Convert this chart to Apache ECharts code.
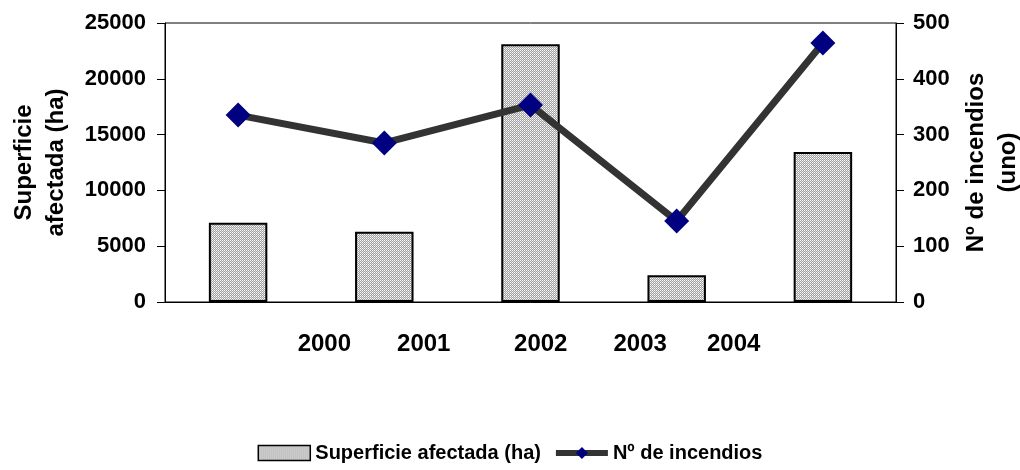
<!DOCTYPE html>
<html>
<head>
<meta charset="utf-8">
<script src="https://cdn.jsdelivr.net/npm/echarts@6/dist/echarts.min.js"></script>
<style>
  html, body { margin: 0; padding: 0; background: #fff; }
  #chart { width: 1020px; height: 470px; }
</style>
</head>
<body>
<div id="chart"></div>
<script>
  // datos
  var years = ['2000', '2001', '2002', '2003', '2004'];
  var superficie = [7100, 6300, 23100, 2400, 13450];
  var incendios = [335, 285, 353, 145, 464];
  // posición de las etiquetas de año (en unidades de categoría, están desplazadas en el original)
  var yearLabelPos = [0.59, 1.27, 2.07, 2.75, 3.39];
  var leftTicks = { min: 0, max: 25000, interval: 5000 };
  var rightTicks = { min: 0, max: 500, interval: 100 };

  var FONT = '"Liberation Sans", Arial, sans-serif';

  // trama punteada gris de las barras
  function makePattern() {
    var c = document.createElement('canvas');
    c.width = 2; c.height = 2;
    var ctx = c.getContext('2d');
    ctx.fillStyle = '#ffffff';
    ctx.fillRect(0, 0, 2, 2);
    ctx.fillStyle = '#a0a0a0';
    ctx.fillRect(1, 0, 1, 1);
    ctx.fillRect(0, 1, 1, 1);
    ctx.fillStyle = '#dcdcdc';
    ctx.fillRect(1, 1, 1, 1);
    return c;
  }
  var pattern = { image: makePattern(), repeat: 'repeat' };

  var chart = echarts.init(document.getElementById('chart'), null, { renderer: 'canvas' });

  var option = {
    animation: false,
    textStyle: { fontFamily: FONT },
    grid: {
      left: 165, right: 124, top: 23, bottom: 168,
      outerBoundsMode: 'none',
      containLabel: false,
      show: true, borderColor: '#000', borderWidth: 1
    },
    legend: {
      bottom: 2,
      left: 'center',
      itemWidth: 52,
      itemHeight: 15,
      itemGap: 12,
      textStyle: { fontFamily: FONT, fontSize: 20, fontWeight: 'bold', color: '#000' },
      data: [
        { name: 'Superficie afectada (ha)', icon: 'rect', itemStyle: { borderWidth: 1.5 } },
        { name: 'Nº de incendios', lineStyle: { width: 6 } }
      ]
    },
    xAxis: [
      {
        type: 'category',
        data: years,
        axisLine: { lineStyle: { color: '#000', width: 1 } },
        axisTick: { show: false },
        axisLabel: { show: false }
      },
      {
        type: 'value',
        min: -0.5,
        max: 4.5,
        position: 'bottom',
        axisLine: { show: false },
        axisTick: { show: false },
        splitLine: { show: false },
        axisLabel: {
          customValues: yearLabelPos,
          formatter: function (v) {
            var i = yearLabelPos.indexOf(v);
            return i >= 0 ? years[i] : '';
          },
          margin: 30,
          fontFamily: FONT,
          fontSize: 24,
          fontWeight: 'bold',
          color: '#000'
        }
      }
    ],
    yAxis: [
      {
        type: 'value',
        min: leftTicks.min, max: leftTicks.max, interval: leftTicks.interval,
        name: 'Superficie\nafectada (ha)',
        nameLocation: 'middle',
        nameRotate: 90,
        nameGap: 93,
        nameTextStyle: { fontFamily: FONT, fontSize: 24, fontWeight: 'bold', color: '#000', lineHeight: 32 },
        axisLine: { show: true, onZero: false, lineStyle: { color: '#000', width: 1 } },
        axisTick: { show: true, length: 8, lineStyle: { color: '#000' } },
        splitLine: { show: false },
        axisLabel: {
          margin: 19, fontFamily: FONT, fontSize: 22, fontWeight: 'bold', color: '#000',
          formatter: function (v) { return String(v); }
        }
      },
      {
        type: 'value',
        position: 'right',
        min: rightTicks.min, max: rightTicks.max, interval: rightTicks.interval,
        name: 'Nº de incendios\n(uno)',
        nameLocation: 'middle',
        nameRotate: 90,
        nameGap: 60,
        nameTextStyle: { fontFamily: FONT, fontSize: 24, fontWeight: 'bold', color: '#000', lineHeight: 32 },
        axisLine: { show: true, onZero: false, lineStyle: { color: '#000', width: 1 } },
        axisTick: { show: true, length: 8, lineStyle: { color: '#000' } },
        splitLine: { show: false },
        axisLabel: {
          margin: 17, fontFamily: FONT, fontSize: 22, fontWeight: 'bold', color: '#000',
          formatter: function (v) { return String(v); }
        }
      }
    ],
    series: [
      {
        name: 'Superficie afectada (ha)',
        type: 'bar',
        xAxisIndex: 0,
        yAxisIndex: 0,
        data: superficie,
        barCategoryGap: '60%',
        itemStyle: { color: pattern, borderColor: '#000', borderWidth: 2 }
      },
      {
        name: 'Nº de incendios',
        type: 'line',
        xAxisIndex: 0,
        yAxisIndex: 1,
        data: incendios,
        symbol: 'diamond',
        symbolSize: 25,
        itemStyle: { color: '#000080' },
        lineStyle: { color: '#333333', width: 7 }
      }
    ]
  };

  chart.setOption(option);
</script>
</body>
</html>
